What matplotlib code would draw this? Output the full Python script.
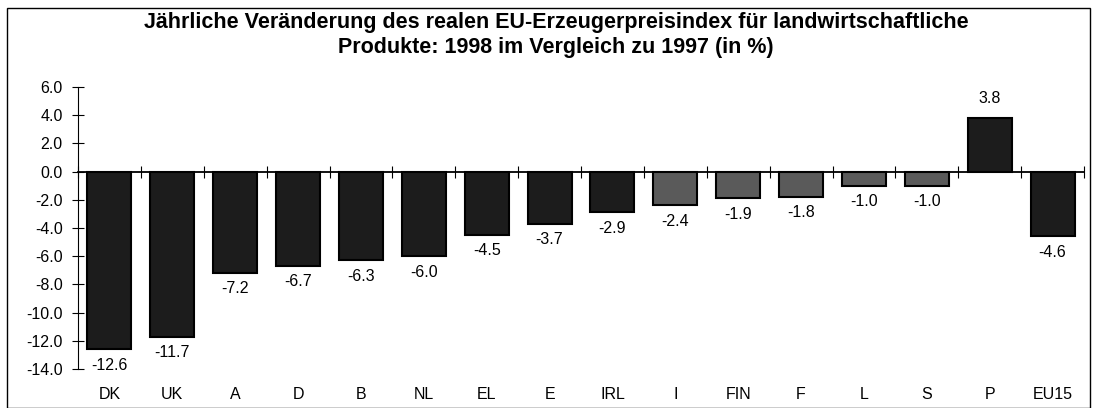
import matplotlib
matplotlib.use("Agg")
import matplotlib.pyplot as plt
from matplotlib.patches import Rectangle
from matplotlib.ticker import FuncFormatter, FixedLocator
import numpy as np

plt.rcParams['font.family'] = ['Liberation Sans', 'DejaVu Sans']

categories = ["DK", "UK", "A", "D", "B", "NL", "EL", "E", "IRL", "I", "FIN", "F", "L", "S", "P", "EU15"]
values = [-12.6, -11.7, -7.2, -6.7, -6.3, -6.0, -4.5, -3.7, -2.9, -2.4, -1.9, -1.8, -1.0, -1.0, 3.8, -4.6]
light = ["I", "FIN", "F", "L", "S"]
title = "Jährliche Veränderung des realen EU-Erzeugerpreisindex für landwirtschaftliche\nProdukte: 1998 im Vergleich zu 1997 (in %)"

W, H = 1095, 408
fig = plt.figure(figsize=(W / 100, H / 100), dpi=100)
ax = fig.add_axes([78 / W, 1 - 369 / H, (1084 - 78) / W, (369 - 87) / H])

x = np.arange(len(categories))
colors = ["#5a5a5a" if c in light else "#1c1c1c" for c in categories]
ax.bar(x, values, width=0.7, color=colors, edgecolor="#000000", linewidth=1.5, zorder=2)

FS = 11.5
for xi, v in zip(x, values):
    if v < 0:
        ax.annotate(f"{v:.1f}", (xi, v), xytext=(0, -6), textcoords="offset points",
                    ha="center", va="top", fontsize=FS)
    else:
        ax.annotate(f"{v:.1f}", (xi, v), xytext=(0, 9), textcoords="offset points",
                    ha="center", va="bottom", fontsize=FS)

ax.set_xlim(-0.5, len(categories) - 0.5)
ax.set_ylim(-14, 6)
ax.set_yticks(np.arange(-14, 6.1, 2))
ax.yaxis.set_major_formatter(FuncFormatter(lambda v, p: f"{v:.1f}"))
ax.tick_params(axis="y", direction="inout", length=8, width=0.8, labelsize=FS, pad=7)

for s in ["top", "right"]:
    ax.spines[s].set_visible(False)
ax.spines["left"].set_linewidth(0.8)
ax.spines["bottom"].set_position(("data", 0))
ax.spines["bottom"].set_linewidth(1.3)
ax.spines["bottom"].set_zorder(3)
ax.xaxis.set_major_locator(FixedLocator(np.arange(-0.5, len(categories), 1.0)))
ax.xaxis.set_major_formatter(FuncFormatter(lambda v, p: ""))
ax.tick_params(axis="x", direction="inout", length=8, width=0.8)

sec = ax.secondary_xaxis("bottom")
sec.set_xticks(x)
sec.set_xticklabels(categories)
sec.tick_params(length=0, labelsize=FS, pad=13)
sec.spines["bottom"].set_visible(False)

fig.text(556 / W, 1 - 35 / H, title, ha="center", va="center", fontsize=15.5,
         fontweight="bold", linespacing=1.2)

fig.patches.append(Rectangle((7 / W, 0), (1090 - 7) / W, 1 - 8 / H, transform=fig.transFigure,
                             fill=False, edgecolor="#000000", linewidth=1.0))

fig.savefig("out.png", dpi=100)
